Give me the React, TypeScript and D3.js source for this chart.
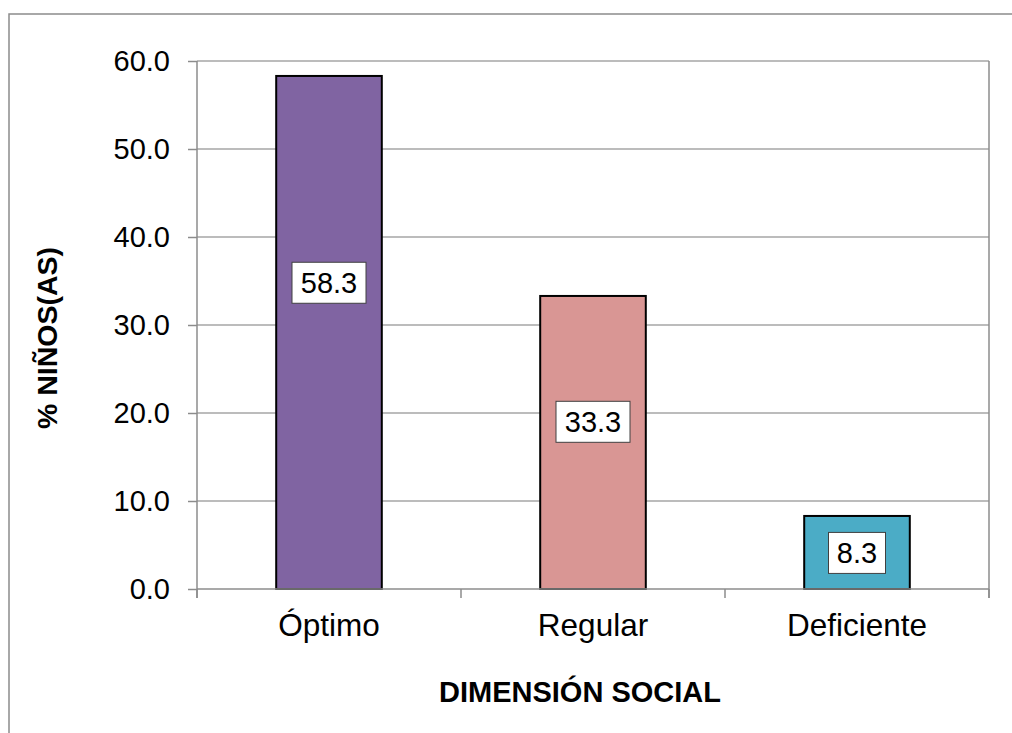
import * as d3 from "d3";
import React, { useEffect, useRef } from "react";

// chart data
const categories = ["Óptimo", "Regular", "Deficiente"];
const percentages = [58.3, 33.3, 8.3];
const barColors = ["#8064A2", "#D99694", "#4BACC6"];
// data labels were dragged by hand in the original, kept in value units
const labelAt = [34.8, 19.0, 4.1];
const yTicks = [0, 10, 20, 30, 40, 50, 60];
const yTitle = "% NIÑOS(AS)";
const xTitle = "DIMENSIÓN SOCIAL";

const W = 1012;
const H = 733;
const FONT = "Arial, 'Liberation Sans', sans-serif";

const Chart: React.FC = () => {
  const ref = useRef<SVGSVGElement>(null);

  useEffect(() => {
    if (!ref.current) return;
    const svg = d3.select(ref.current);
    svg.selectAll("*").remove();

    const margin = { top: 61, right: 23, bottom: 144, left: 197 };
    const width = W - margin.left - margin.right;
    const height = H - margin.top - margin.bottom;

    // outer chart frame (runs off the right and bottom edges)
    svg
      .append("rect")
      .attr("x", 9)
      .attr("y", 14)
      .attr("width", W + 20)
      .attr("height", H + 20)
      .attr("fill", "white")
      .attr("stroke", "#8c8c8c")
      .attr("stroke-width", 1.5);

    const g = svg
      .append("g")
      .attr("transform", `translate(${margin.left},${margin.top})`);

    const xScale = d3
      .scaleBand()
      .domain(categories)
      .range([0, width])
      .padding(0);

    const yScale = d3.scaleLinear().domain([0, 60]).range([height, 0]);

    // gridlines
    g.append("g")
      .selectAll("line")
      .data(yTicks.filter((t) => t > 0))
      .enter()
      .append("line")
      .attr("x1", 0)
      .attr("x2", width)
      .attr("y1", (d) => yScale(d))
      .attr("y2", (d) => yScale(d))
      .attr("stroke", "#a6a6a6")
      .attr("stroke-width", 1.5);

    // right border of plot area
    g.append("line")
      .attr("x1", width)
      .attr("x2", width)
      .attr("y1", yScale(60))
      .attr("y2", height + 9)
      .attr("stroke", "#8c8c8c")
      .attr("stroke-width", 1.5);

    // bars
    const barW = xScale.bandwidth() * 0.4;
    g.append("g")
      .selectAll("rect")
      .data(percentages)
      .enter()
      .append("rect")
      .attr("x", (d, i) => xScale(categories[i])! + (xScale.bandwidth() - barW) / 2)
      .attr("y", (d) => yScale(d))
      .attr("width", barW)
      .attr("height", (d) => height - yScale(d))
      .attr("fill", (d, i) => barColors[i])
      .attr("stroke", "#000")
      .attr("stroke-width", 2);

    // Y axis
    const yAxis = g
      .append("g")
      .call(
        d3
          .axisLeft(yScale)
          .tickValues(yTicks)
          .tickSize(9)
          .tickPadding(18)
          .tickFormat((d) => d3.format(".1f")(d as number))
      );
    yAxis.select(".domain").attr("stroke", "#8c8c8c").attr("stroke-width", 1.5).attr("d", `M0,0V${height + 9}`);
    yAxis.selectAll(".tick line").attr("stroke", "#8c8c8c").attr("stroke-width", 1.5);
    yAxis
      .selectAll(".tick text")
      .attr("fill", "#000")
      .style("font-family", FONT)
      .style("font-size", "29px");

    // X axis
    const boundaries = [0, ...categories.map((c) => xScale(c)! + xScale.bandwidth())];
    g.append("line")
      .attr("x1", 0)
      .attr("x2", width)
      .attr("y1", height)
      .attr("y2", height)
      .attr("stroke", "#8c8c8c")
      .attr("stroke-width", 1.5);
    g.append("g")
      .selectAll("line")
      .data(boundaries)
      .enter()
      .append("line")
      .attr("x1", (d) => d)
      .attr("x2", (d) => d)
      .attr("y1", height)
      .attr("y2", height + 9)
      .attr("stroke", "#8c8c8c")
      .attr("stroke-width", 1.5);

    g.append("g")
      .selectAll("text")
      .data(categories)
      .enter()
      .append("text")
      .attr("x", (d) => xScale(d)! + xScale.bandwidth() / 2)
      .attr("y", height + 47)
      .attr("text-anchor", "middle")
      .style("font-family", FONT)
      .style("font-size", "31.5px")
      .text((d) => d);

    // data labels in white boxes
    const labels = g
      .append("g")
      .selectAll("g")
      .data(percentages)
      .enter()
      .append("g")
      .attr(
        "transform",
        (d, i) => `translate(${xScale(categories[i])! + xScale.bandwidth() / 2},${yScale(labelAt[i])})`
      );
    labels
      .append("rect")
      .attr("x", (d) => (d >= 10 ? -37 : -28.5))
      .attr("y", -20.5)
      .attr("width", (d) => (d >= 10 ? 74 : 57))
      .attr("height", 41)
      .attr("fill", "#fff")
      .attr("stroke", "#404040")
      .attr("stroke-width", 1);
    labels
      .append("text")
      .attr("text-anchor", "middle")
      .attr("y", 10.5)
      .style("font-family", FONT)
      .style("font-size", "29px")
      .text((d) => d3.format(".1f")(d));

    // axis titles
    svg
      .append("text")
      .attr("transform", `translate(57,338) rotate(-90)`)
      .attr("text-anchor", "middle")
      .style("font-family", FONT)
      .style("font-weight", "bold")
      .style("font-size", "28.5px")
      .text(yTitle);

    svg
      .append("text")
      .attr("x", 580)
      .attr("y", 702)
      .attr("text-anchor", "middle")
      .style("font-family", FONT)
      .style("font-weight", "bold")
      .style("font-size", "29px")
      .text(xTitle);
  }, []);

  return (
    <svg
      ref={ref}
      width={W}
      height={H}
      style={{ position: "absolute", left: 0, top: 0, display: "block", background: "#fff" }}
    ></svg>
  );
};

export default function App() {
  return <Chart />;
}
